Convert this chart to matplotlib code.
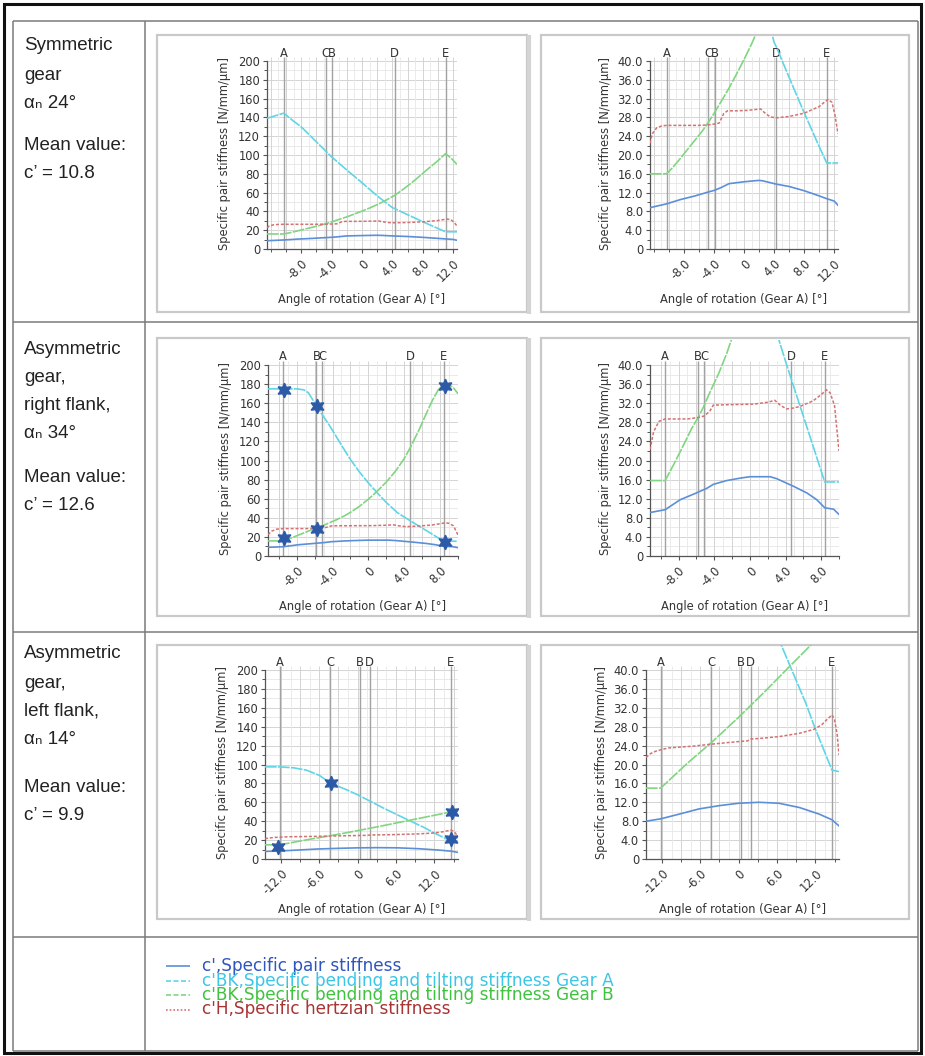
import matplotlib
matplotlib.use("Agg")
import matplotlib.pyplot as plt
from matplotlib.lines import Line2D
from matplotlib.patches import Rectangle
from matplotlib.ticker import FixedLocator

# ---------------- data ----------------
# Row 1: symmetric gear, alpha_n 24 deg
r1_xlim = (-12.5, 12.5)
r1_marks = ["A", "C", "B", "D", "E"]
r1_marks_x = [-10.3, -4.8, -3.9, 4.3, 11.0]
r1_pair_x = [-12.5, -10.3, -8.5, -6.5, -4.8, -3.9, -3.0, -2.0, 0.0, 2.0, 2.5, 4.3, 6.0, 8.0, 10.0, 11.0, 12.0, 12.5]
r1_pair_y = [8.8, 9.6, 10.5, 11.3, 12.1, 12.5, 13.1, 13.9, 14.3, 14.6, 14.5, 13.8, 13.3, 12.4, 11.3, 10.7, 10.2, 9.3]
r1_bka_x = [-12.5, -11.5, -10.3, -9.0, -8.0, -6.0, -4.0, -2.0, 0.0, 2.0, 4.0, 4.3, 6.0, 8.0, 10.0, 11.0, 12.5]
r1_bka_y = [139, 141.5, 144.5, 136, 130, 114, 98, 84, 70.5, 56.5, 44, 43, 36.5, 29, 21.8, 18.3, 18.3]
r1_bkb_x = [-12.5, -10.3, -9.5, -8.5, -7.0, -5.5, -4.8, -4.0, -3.0, -2.0, -1.0, 0.0, 1.0, 2.0, 3.0, 4.3, 5.5, 7.0, 8.5, 10.0, 11.0, 11.8, 12.5]
r1_bkb_y = [16, 16, 17.3, 19.2, 22.2, 25.2, 26.8, 28.8, 31.5, 34.2, 37.2, 40.3, 43.6, 47.2, 51.2, 57, 64, 73.5, 84, 94, 101.5, 96, 90]
r1_h_x = [-12.5, -12.2, -11.6, -10.9, -10.3, -8.0, -6.0, -4.8, -3.9, -3.3, -2.7, -2.2, -1.0, 0.5, 2.2, 2.8, 3.5, 4.3, 6.0, 8.0, 10.0, 10.8, 11.2, 11.7, 12.1, 12.5]
r1_h_y = [22.5, 24.5, 25.8, 26.2, 26.3, 26.3, 26.3, 26.4, 26.6, 26.8, 28.8, 29.4, 29.4, 29.5, 29.8, 28.9, 28.1, 27.9, 28.2, 28.9, 30.3, 31.4, 31.8, 31.2, 28.5, 24.5]
r1_star_x = []
r1_star_y = []
r1_xticks = [-8, -4, 0, 4, 8, 12]
r1_xticklabels = ["-8.0", "-4.0", "0", "4.0", "8.0", "12.0"]
r1_xminor = [-12, -10, -6, -2, 2, 6, 10]

# Row 2: asymmetric gear, right flank, alpha_n 34 deg
r2_xlim = (-11.2, 10.0)
r2_marks = ["A", "B", "C", "D", "E"]
r2_marks_x = [-9.5, -5.8, -5.15, 4.65, 8.4]
r2_pair_x = [-11.2, -9.5, -7.8, -6.0, -4.8, -4.1, -2.6, -1.1, 0.0, 1.0, 2.3, 3.0, 4.9, 6.4, 7.5, 8.4, 9.4, 10.0]
r2_pair_y = [9.1, 9.7, 11.8, 13.2, 14.2, 15.0, 15.8, 16.3, 16.6, 16.6, 16.6, 16.2, 14.6, 13.2, 11.8, 10.1, 9.8, 8.7]
r2_bka_x = [-11.2, -9.5, -8.0, -7.2, -6.7, -6.3, -5.8, -5.15, -4.5, -4.0, -3.0, -2.0, -1.0, 0.0, 1.0, 2.0, 3.0, 3.2, 4.0, 5.0, 6.0, 7.2, 8.4, 10.0]
r2_bka_y = [175, 175, 175, 174, 171, 165, 157.5, 148, 139, 131.5, 116, 101, 88, 76.5, 66, 56, 47.5, 45.6, 40.8, 35, 29.3, 22.4, 15.5, 15.5]
r2_bkb_x = [-11.2, -9.5, -8.5, -7.5, -6.5, -5.8, -5.15, -4.5, -3.5, -2.6, -2.0, -1.0, 0.0, 1.0, 2.0, 3.0, 4.0, 4.7, 5.7, 6.5, 7.2, 7.8, 8.4, 8.9, 9.5, 10.0]
r2_bkb_y = [15.8, 15.8, 19.3, 23, 26.8, 29, 31.4, 34.2, 38.2, 42.4, 45.7, 52, 59.5, 68, 77.5, 88.5, 102, 114, 133, 150, 164, 174, 179.5, 180, 176, 170]
r2_h_x = [-11.2, -10.8, -10.2, -9.5, -7.0, -5.8, -5.15, -4.5, -4.1, -2.0, 0.4, 2.0, 2.8, 3.4, 4.1, 4.65, 5.6, 7.1, 8.0, 8.6, 9.0, 9.5, 10.0]
r2_h_y = [22.3, 26, 28.2, 28.7, 28.7, 29.0, 29.3, 30.3, 31.6, 31.7, 31.8, 32.2, 32.6, 31.6, 30.8, 30.9, 31.3, 32.5, 33.8, 34.8, 34.2, 31.5, 22]
r2_star_x = [-9.45, -9.45, -5.75, -5.75, 8.5, 8.5]
r2_star_y = [174, 18.5, 157.5, 28.5, 178.5, 14.5]
r2_xticks = [-8, -4, 0, 4, 8]
r2_xticklabels = ["-8.0", "-4.0", "0", "4.0", "8.0"]
r2_xminor = [-10, -6, -2, 2, 6, 10]

# Row 3: asymmetric gear, left flank, alpha_n 14 deg
r3_xlim = (-14.5, 15.7)
r3_marks = ["A", "C", "B", "D", "E"]
r3_marks_x = [-12.2, -4.3, 0.4, 1.9, 14.6]
r3_pair_x = [-14.5, -12.2, -9.3, -6.2, -3.0, 0.0, 3.2, 6.3, 9.5, 12.6, 14.6, 15.7]
r3_pair_y = [8.0, 8.5, 9.5, 10.6, 11.3, 11.8, 12.0, 11.8, 10.9, 9.5, 8.3, 7.0]
r3_bka_x = [-14.5, -12.2, -10.0, -8.0, -6.0, -4.3, -2.0, 0.0, 2.0, 4.0, 6.0, 6.6, 8.0, 9.0, 10.5, 12.0, 13.5, 14.6, 15.7]
r3_bka_y = [97.5, 97.5, 96.5, 94, 88.5, 80.5, 74, 68, 61, 54, 47.5, 45.5, 41, 37.8, 33, 27.5, 22.5, 18.8, 18.5]
r3_bkb_x = [-14.5, -12.2, -8.0, -4.3, 0.0, 4.0, 8.0, 10.5, 14.6, 15.7]
r3_bkb_y = [15, 15, 20.3, 24.6, 30, 35.3, 40.8, 44.2, 49.8, 50.8]
r3_h_x = [-14.5, -13.8, -13.0, -12.2, -11.0, -9.0, -7.0, -4.3, -2.0, 0.4, 1.4, 1.9, 3.2, 6.3, 9.5, 11.7, 13.0, 13.8, 14.6, 15.0, 15.4, 15.7]
r3_h_y = [21.5, 22.3, 22.8, 23.1, 23.5, 23.7, 23.9, 24.3, 24.6, 24.9, 25.0, 25.4, 25.5, 25.9, 26.6, 27.4, 28.4, 29.5, 30.5, 29.5, 26.5, 22.0]
r3_star_x = [-12.4, -4.1, 14.8, 14.6]
r3_star_y = [13, 80.5, 50, 21]
r3_xticks = [-12, -6, 0, 6, 12]
r3_xticklabels = ["-12.0", "-6.0", "0", "6.0", "12.0"]
r3_xminor = [-9, -3, 3, 9, 15]

row_texts = [
    ["Symmetric", "gear", "\u03b1\u2099 24\u00b0", "Mean value:", "c\u2019 = 10.8"],
    ["Asymmetric", "gear,", "right flank,", "\u03b1\u2099 34\u00b0", "Mean value:", "c\u2019 = 12.6"],
    ["Asymmetric", "gear,", "left flank,", "\u03b1\u2099 14\u00b0", "Mean value:", "c\u2019 = 9.9"],
]

legend_labels = ["c',Specific pair stiffness",
                 "c'BK,Specific bending and tilting stiffness Gear A",
                 "c'BK,Specific bending and tilting stiffness Gear B",
                 "c'H,Specific hertzian stiffness"]

y_label = "Specific pair stiffness [N/mm/\u00b5m]"
x_label = "Angle of rotation (Gear A) [\u00b0]"

# ---------------- style / layout ----------------
W, H = 925, 1056
plt.rcParams['font.family'] = ['DejaVu Sans']
C_PAIR, C_BKA, C_BKB, C_H = "#5b8fd8", "#5fd5e6", "#80d680", "#d37272"
T_PAIR, T_BKA, T_BKB, T_H = "#2f55c0", "#3cc6e6", "#3fc23f", "#a83434"
STAR_C = "#2c5aa6"
TXT = "#333333"

fig = plt.figure(figsize=(W / 100, H / 100), dpi=100)
fig.patch.set_facecolor("white")


def fx(px):
    return px / W


def fy(py):
    return 1 - py / H


def fig_line(x0, y0, x1, y1, color, lw, ls="-", z=1):
    fig.add_artist(Line2D([fx(x0), fx(x1)], [fy(y0), fy(y1)], transform=fig.transFigure,
                          color=color, lw=lw, ls=ls, zorder=z, solid_capstyle="butt"))


def fig_rect(x0, y0, x1, y1, ec, lw, z=0):
    fig.add_artist(Rectangle((fx(x0), fy(y1)), fx(x1) - fx(x0), fy(y0) - fy(y1),
                             transform=fig.transFigure, facecolor="white", edgecolor=ec,
                             lw=lw, zorder=z))


# outer frame and table lines
fig_rect(4, 4, 921, 1053, "#111111", 2.2, z=-3)
TL = "#7a7a7a"
for yy in (21, 322, 632, 937, 1051):
    fig_line(13, yy, 918, yy, TL, 1.1, z=-2)
for xx in (13, 145, 918):
    fig_line(xx, 21, xx, 1051, TL, 1.1, z=-2)

# panel frames (light boxes with a slightly darker right edge on the left box)
row_frames = [(35, 312), (338, 616), (645, 919)]
for (t, b) in row_frames:
    fig_rect(157, t, 527, b, "#c9c9c9", 1.6, z=-1)
    fig_rect(541, t, 909, b, "#c9c9c9", 1.6, z=-1)
    fig_line(529, t, 529, b + 2, "#d4d4d4", 3.0, z=-1)

LEFT_TOP, RIGHT_TOP = 200.0, 40.0
LIM_FACTOR = 1.1325


def make_axes(xl, xr, y_top_tick, y_zero, big):
    top_val = LEFT_TOP if big else RIGHT_TOP
    h = (y_zero - y_top_tick) * LIM_FACTOR
    ax = fig.add_axes([fx(xl), fy(y_zero), fx(xr) - fx(xl), h / H])
    ax.set_zorder(2)
    ax.set_facecolor("none")
    ax.set_ylim(0, top_val * LIM_FACTOR)
    return ax, h


def style_axes(ax, h, w, big, xlim, xticks, xticklabels, xminor, marks, marks_x):
    top_val = LEFT_TOP if big else RIGHT_TOP
    step = 20 if big else 4
    yt = [i * step for i in range(11)]
    ym = [i * step + step / 2 for i in range(10)]
    ax.set_xlim(*xlim)
    for s in ("top", "right"):
        ax.spines[s].set_visible(False)
    for s in ("left", "bottom"):
        ax.spines[s].set_color("#555555")
        ax.spines[s].set_linewidth(0.9)
    ax.spines["left"].set_bounds(0, top_val)
    ax.set_yticks(yt)
    if big:
        ax.set_yticklabels([f"{v:d}" for v in yt])
    else:
        ax.set_yticklabels(["0"] + [f"{v:.1f}" for v in yt[1:]])
    ax.yaxis.set_minor_locator(FixedLocator(ym))
    ax.set_xticks(xticks)
    ax.set_xticklabels(xticklabels, rotation=45, ha="right", va="top", rotation_mode="anchor")
    ax.xaxis.set_minor_locator(FixedLocator(xminor))
    ax.tick_params(axis="both", which="major", length=3, width=0.8, color="#555555",
                   labelsize=8.3, labelcolor=TXT, pad=2)
    ax.tick_params(axis="both", which="minor", length=2.5, width=0.7, color="#555555")
    ax.tick_params(axis="x", which="major", pad=3)
    # grid
    gtop = top_val * 1.02
    xall = sorted(list(xticks) + list(xminor))
    xfine = [(xall[i] + xall[i + 1]) / 2 for i in range(len(xall) - 1)]
    ax.hlines(yt[1:], xlim[0], xlim[1], colors="#d4d4d4", lw=0.7, zorder=0)
    ax.hlines(ym, xlim[0], xlim[1], colors="#e6e6e6", lw=0.6, zorder=0)
    ax.vlines([v for v in xall if xlim[0] < v < xlim[1]], 0, gtop, colors="#d4d4d4", lw=0.7, zorder=0)
    ax.vlines([v for v in xfine if xlim[0] < v < xlim[1]], 0, gtop, colors="#e8e8e8", lw=0.6, zorder=0)
    # marker lines + letters
    ax.vlines(marks_x, 0, top_val * 1.02, colors="#a2a2a2", lw=1.0, zorder=1)
    for name, mx in zip(marks, marks_x):
        ax.text(mx, top_val * 1.042, name, ha="center", va="center", fontsize=8.3,
                color=TXT, clip_on=False)
    ax.set_ylabel(y_label, fontsize=8.3, color=TXT)
    ax.set_xlabel(x_label, fontsize=8.3, color=TXT)
    ax.yaxis.set_label_coords(-(36 if big else 38) / w, 0.45)
    ax.xaxis.set_label_coords(0.5, -44 / h)


rows = [
    dict(xlim=r1_xlim, marks=r1_marks, mx=r1_marks_x, px=r1_pair_x, py=r1_pair_y,
         ax_=r1_bka_x, ay=r1_bka_y, bx=r1_bkb_x, by=r1_bkb_y, hx=r1_h_x, hy=r1_h_y,
         sx=r1_star_x, sy=r1_star_y, xt=r1_xticks, xtl=r1_xticklabels, xm=r1_xminor),
    dict(xlim=r2_xlim, marks=r2_marks, mx=r2_marks_x, px=r2_pair_x, py=r2_pair_y,
         ax_=r2_bka_x, ay=r2_bka_y, bx=r2_bkb_x, by=r2_bkb_y, hx=r2_h_x, hy=r2_h_y,
         sx=r2_star_x, sy=r2_star_y, xt=r2_xticks, xtl=r2_xticklabels, xm=r2_xminor),
    dict(xlim=r3_xlim, marks=r3_marks, mx=r3_marks_x, px=r3_pair_x, py=r3_pair_y,
         ax_=r3_bka_x, ay=r3_bka_y, bx=r3_bkb_x, by=r3_bkb_y, hx=r3_h_x, hy=r3_h_y,
         sx=r3_star_x, sy=r3_star_y, xt=r3_xticks, xtl=r3_xticklabels, xm=r3_xminor),
]

# pixel layout of the axes: (left xl, left xr, right xl, right xr, y of top tick, y of zero)
axes_px = [(267, 457, 650, 838, 61, 249),
           (268, 458, 650, 839, 365, 556),
           (265, 458, 646, 839, 670, 859)]

for r, (lxl, lxr, rxl, rxr, ytop, yzero) in zip(rows, axes_px):
    for big, (xl, xr) in ((True, (lxl, lxr)), (False, (rxl, rxr))):
        ax, h = make_axes(xl, xr, ytop, yzero, big)
        style_axes(ax, h, xr - xl, big, r["xlim"], r["xt"], r["xtl"], r["xm"], r["marks"], r["mx"])
        ax.plot(r["px"], r["py"], color=C_PAIR, lw=1.2, zorder=3)
        ax.plot(r["ax_"], r["ay"], color=C_BKA, lw=1.2, ls=(0, (7, 0.8)), zorder=3)
        ax.plot(r["bx"], r["by"], color=C_BKB, lw=1.2, ls=(0, (7, 0.8)), zorder=3)
        ax.plot(r["hx"], r["hy"], color=C_H, lw=1.1, ls=(0, (2, 1.2)), zorder=3)
        if big and r["sx"]:
            ax.plot(r["sx"], r["sy"], ls="none", marker=(6, 1, 0), ms=10.5,
                    color=STAR_C, mec=STAR_C, zorder=5)

# left-column texts
row_text_y = [
    [46, 76, 103, 146, 174],
    [349, 378, 406, 434, 477, 505],
    [654, 683, 711, 739, 788, 816],
]
for lines, ys in zip(row_texts, row_text_y):
    for s, yy in zip(lines, ys):
        fig.text(fx(24), fy(yy), s, ha="left", va="center", fontsize=13.5,
                 color="#222222", family=["Liberation Sans", "DejaVu Sans"])

# legend
leg_styles = [(C_PAIR, "-", T_PAIR), (C_BKA, (0, (3, 1.5)), T_BKA),
              (C_BKB, (0, (3, 1.5)), T_BKB), (C_H, (0, (1, 1.2)), T_H)]
leg_y = [966, 980.5, 995, 1009.5]
for lab, (lc, ls, tc), yy in zip(legend_labels, leg_styles, leg_y):
    fig_line(166, yy, 190, yy, lc, 1.2, ls=ls, z=3)
    fig.text(fx(202), fy(yy), lab, ha="left", va="center", fontsize=12.2, color=tc, zorder=4)

fig.savefig("out.png", dpi=100, facecolor="white")
